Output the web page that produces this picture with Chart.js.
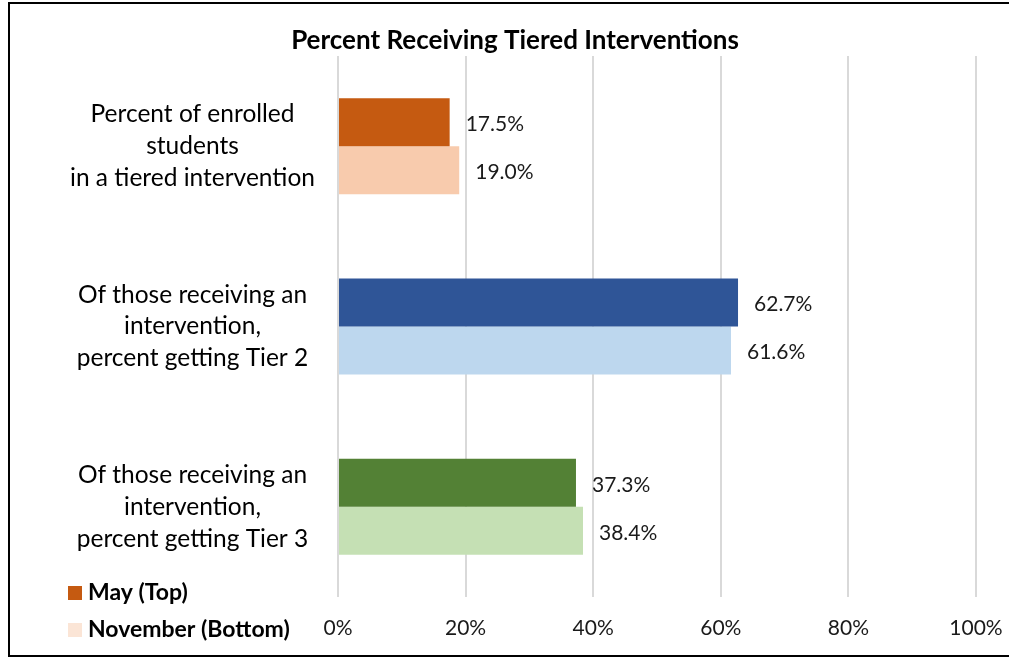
<!DOCTYPE html>
<html>
<head>
<meta charset="utf-8">
<script src="https://cdn.jsdelivr.net/npm/chart.js@4"></script>
<style>
	html, body { margin: 0; padding: 0; background: #fff; overflow: hidden; }
	#frame { position: absolute; left: 8px; top: 2px; width: 1100px; height: 655px; border: 2px solid #000; box-sizing: border-box; }
	#Tiered_Plot { position: absolute; left: 0; top: 0; }
</style>
</head>
<body>
<div id="frame"></div>
<canvas id="Tiered_Plot" width="1009" height="657"></canvas>
<script>

const categories = [
	["Percent of enrolled", "students", "in a tiered intervention"],
	["Of those receiving an", "intervention,", "percent getting Tier 2"],
	["Of those receiving an", "intervention,", "percent getting Tier 3"]
];
const may_values = [17.5, 62.7, 37.3];
const november_values = [19.0, 61.6, 38.4];
const x_ticks = [0, 20, 40, 60, 80, 100];

const may_colors = ["#C55A11", "#2F5597", "#538135"];
const november_colors = ["#F8CBAD", "#BDD7EE", "#C5E0B4"];

Chart.defaults.font.family = 'Lato';
Chart.defaults.color = '#000';

// value labels right of each bar
const value_labels = {
	id: 'value_labels',
	afterDatasetsDraw(chart) {
		const ctx = chart.ctx;
		ctx.save();
		ctx.font = '21px Lato';
		ctx.fillStyle = '#1a1a1a';
		ctx.textAlign = 'left';
		ctx.textBaseline = 'middle';
		chart.data.datasets.forEach((ds, i) => {
			chart.getDatasetMeta(i).data.forEach((bar, j) => {
				ctx.fillText(ds.data[j].toFixed(1) + '%', bar.x + 16, bar.y + 2);
			});
		});
		ctx.restore();
	}
};

// legend drawn in bottom-left corner, one item per row
const corner_legend = {
	id: 'corner_legend',
	afterDraw(chart) {
		const ctx = chart.ctx;
		ctx.save();
		ctx.font = 'bold 23px Lato';
		ctx.textBaseline = 'middle';
		ctx.textAlign = 'left';
		chart.data.datasets.forEach((ds, i) => {
			const y = 593 + i * 37;
			ctx.fillStyle = ds.legendColor;
			ctx.fillRect(68, y - 7, 14, 14);
			ctx.fillStyle = '#000';
			ctx.fillText(ds.label, 88, y);
		});
		ctx.restore();
	}
};

var Tiered_Plot_Obj = new Chart(document.getElementById("Tiered_Plot").getContext("2d"), {
	type: "bar",
	data: {
		labels: categories,
		datasets: [
			{
				label: "May (Top)",
				data: may_values,
				backgroundColor: may_colors,
				legendColor: "#C55A11",
				categoryPercentage: 0.532,
				barPercentage: 1.0,
			},
			{
				label: "November (Bottom)",
				data: november_values,
				backgroundColor: november_colors,
				legendColor: "#FBE5D6",
				categoryPercentage: 0.532,
				barPercentage: 1.0,
			}
		]
	},
	options: {
		indexAxis: 'y',
		responsive: false,
		animation: false,
		layout: {
			padding: { left: 54, right: 33, top: 0, bottom: 0 }
		},
		plugins: {
			legend: { display: false },
			tooltip: { enabled: false },
			title: {
				display: true,
				text: 'Percent Receiving Tiered Interventions',
				color: '#000',
				font: { size: 26, weight: 'bold', lineHeight: 1.0 },
				padding: { top: 28, bottom: 2 }
			}
		},
		scales: {
			x: {
				min: 0,
				max: 100,
				afterBuildTicks: (scale) => { scale.ticks = x_ticks.map(v => ({ value: v })); },
				afterFit: (scale) => {
					scale.height = 60;
					scale.paddingLeft = 0;
					scale.paddingRight = 0;
				},
				grid: { color: '#d9d9d9', lineWidth: 2, drawTicks: false },
				border: { display: false },
				ticks: {
					padding: 19,
					color: '#1a1a1a',
					font: { size: 21 },
					callback: (v) => v + '%'
				}
			},
			y: {
				afterFit: (scale) => {
					scale.width = 284;
					scale.paddingTop = 0;
					scale.paddingBottom = 0;
				},
				grid: { display: false, drawTicks: false },
				border: { display: false },
				ticks: {
					padding: 23,
					crossAlign: 'center',
					color: '#000',
					font: { size: 24.5, lineHeight: 1.3 }
				}
			}
		},
		events: [],
	},
	plugins: [value_labels, corner_legend]
});

</script>
</body>
</html>
